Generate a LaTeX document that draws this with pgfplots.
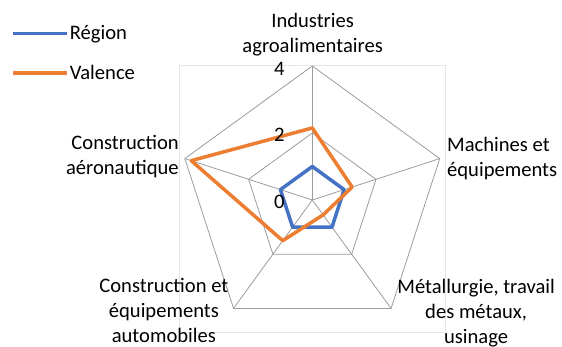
\documentclass[border=0pt]{standalone}
\usepackage{fontspec}
\setmainfont{Carlito}
\usepackage{pgfplots}
\pgfplotsset{compat=1.18}
\definecolor{serieblue}{HTML}{4472C4}
\definecolor{serieorange}{HTML}{ED7D31}
\definecolor{gridgray}{HTML}{9C9C9C}
\definecolor{framegray}{HTML}{E6E6E6}

\begin{document}
\begin{tikzpicture}
\path[use as bounding box, clip] (0,0) rectangle (562pt,347pt);
\begin{axis}[
  at={(0,0)}, anchor=south west,
  scale only axis, x=33.5pt, y=33.5pt,
  xmin=-9.322, xmax=7.454, ymin=-4.388, ymax=5.970,
  hide axis, clip=false,
  font=\fontsize{20.6}{25}\selectfont,
  legend style={draw=none, fill=none, inner sep=0pt,
    at={(axis cs:-8.99,5.24)}, anchor=north west,
    row sep=22pt, font=\fontsize{20.6}{25}\selectfont,
    nodes={inner sep=1pt}},
  legend image code/.code={\draw[#1] (0pt,0pt) -- (54pt,0pt);},
  legend cell align=left,
]
% cadre de la zone de tracé
\draw[framegray, line width=0.8pt] (axis cs:-3.979,-3.940) rectangle (axis cs:3.961,4.030);

% grille du radar (anneaux 2 et 4, rayons)
\addplot[gridgray, line width=0.8pt, data cs=polar, forget plot] coordinates {
  (90,4)(18,4)(-54,4)(-126,4)(162,4)(90,4)};
\addplot[gridgray, line width=0.8pt, data cs=polar, forget plot] coordinates {
  (90,2)(18,2)(-54,2)(-126,2)(162,2)(90,2)};
\addplot[gridgray, line width=0.8pt, data cs=polar, forget plot] coordinates {(90,0)(90,4)};
\addplot[gridgray, line width=0.8pt, data cs=polar, forget plot] coordinates {(18,0)(18,4)};
\addplot[gridgray, line width=0.8pt, data cs=polar, forget plot] coordinates {(-54,0)(-54,4)};
\addplot[gridgray, line width=0.8pt, data cs=polar, forget plot] coordinates {(-126,0)(-126,4)};
\addplot[gridgray, line width=0.8pt, data cs=polar, forget plot] coordinates {(162,0)(162,4)};

% séries
\addplot[serieblue, line width=3.5pt, line join=round, data cs=polar] coordinates {
  (90,1)(18,1)(-54,1)(-126,1)(162,1)(90,1)(18,1)};
\addlegendentry{Région}
\addplot[serieorange, line width=3.5pt, line join=round, data cs=polar] coordinates {
  (90,2.15)(18,1.25)(-54,0.55)(-126,1.5)(162,3.8)(90,2.15)(18,1.25)};
\addlegendentry{Valence}

% graduations
\node[anchor=east, inner sep=0pt] at (axis cs:-0.82,3.92) {4};
\node[anchor=east, inner sep=0pt] at (axis cs:-0.82,1.94) {2};
\node[anchor=east, inner sep=0pt] at (axis cs:-0.82,-0.05) {0};

% catégories
\node[align=center, inner sep=0pt] at (axis cs:0.01,4.93) {Industries\\agroalimentaires};
\node[align=left, anchor=west, inner sep=0pt] at (axis cs:4.02,1.24) {Machines et\\équipements};
\node[align=center, inner sep=0pt] at (axis cs:4.89,-3.37) {Métallurgie, travail\\des métaux,\\usinage};
\node[align=center, inner sep=0pt] at (axis cs:-4.43,-3.31) {Construction et\\équipements\\automobiles};
\node[align=right, anchor=east, inner sep=0pt] at (axis cs:-3.98,1.30) {Construction\\aéronautique};
\end{axis}
\end{tikzpicture}
\end{document}
